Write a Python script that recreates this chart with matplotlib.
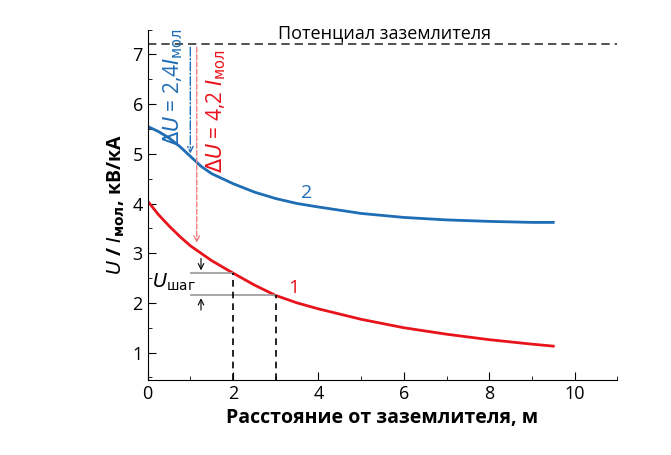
import matplotlib.pyplot as plt
import numpy as np
from matplotlib.ticker import MultipleLocator

plt.rcParams["font.family"] = "Open Sans"

x1 = [0, 0.25, 0.5, 0.75, 1, 1.5, 2, 2.5, 3, 3.5, 4, 5, 6, 7, 8, 9, 9.5]
y1 = [4.05, 3.78, 3.55, 3.34, 3.15, 2.85, 2.6, 2.36, 2.15, 2.0, 1.88, 1.67, 1.5, 1.37, 1.26, 1.17, 1.13]
x2 = [0, 0.25, 0.5, 0.75, 1, 1.25, 1.5, 2, 2.5, 3, 3.5, 4, 5, 6, 7, 8, 9, 9.5]
y2 = [5.55, 5.45, 5.32, 5.15, 4.95, 4.75, 4.6, 4.4, 4.23, 4.1, 4.0, 3.93, 3.8, 3.72, 3.67, 3.64, 3.62, 3.62]
ground = 7.2

fig = plt.figure(figsize=(6.71, 4.55), dpi=100)
ax = fig.add_axes([0.22, 0.165, 0.70, 0.77])
ax.plot(x1, y1, color="#e8141c", lw=2)
ax.plot(x2, y2, color="#1f6db5", lw=2)
ax.axhline(ground, color="#333333", ls=(0, (5, 3)), lw=1.2)
ax.text(5.55, 7.25, "Потенциал заземлителя", fontsize=13, ha="center", va="bottom")

ax.annotate("", xy=(1.0, 4.95), xytext=(1.0, ground),
            arrowprops=dict(arrowstyle="->", color="#1f6db5", ls="-.", lw=1))
ax.annotate("", xy=(1.15, 3.15), xytext=(1.15, ground),
            arrowprops=dict(arrowstyle="->", color="#f08080", ls="--", lw=1))
ax.text(0.6, 6.35, r"$\Delta U$ = 2,4$I_{\rm мол}$", rotation=90, color="#1f6db5",
        fontsize=15, ha="center", va="center", clip_on=False)
ax.text(1.6, 5.85, r"$\Delta U$ = 4,2 $I_{\rm мол}$", rotation=90, color="#e8141c",
        fontsize=15, ha="center", va="center")
ax.text(3.6, 4.12, "2", color="#1f6db5", fontsize=14)
ax.text(3.3, 2.2, "1", color="#e8141c", fontsize=14)

ax.hlines([2.6, 2.15], [1.0, 1.0], [2, 3], color="#999999", lw=1.2)
ax.vlines([2, 3], 0.45, [2.6, 2.15], color="black", ls=(0, (4, 3)), lw=1.2)
ax.annotate("", xy=(1.25, 2.6), xytext=(1.25, 2.95), arrowprops=dict(arrowstyle="->", lw=0.8))
ax.annotate("", xy=(1.25, 2.15), xytext=(1.25, 1.8), arrowprops=dict(arrowstyle="->", lw=0.8))
ax.text(0.1, 2.3, r"$U_{\rm шаг}$", fontsize=14)

ax.set_xlim(0, 11)
ax.set_ylim(0.45, 7.5)
ax.xaxis.set_major_locator(MultipleLocator(2))
ax.xaxis.set_minor_locator(MultipleLocator(1))
ax.yaxis.set_major_locator(MultipleLocator(1))
ax.yaxis.set_minor_locator(MultipleLocator(0.5))
ax.tick_params(which="both", direction="in", labelsize=13)
ax.tick_params(which="major", length=6)
ax.tick_params(which="minor", length=3)
ax.spines["top"].set_visible(False)
ax.spines["right"].set_visible(False)
ax.set_xlabel("Расстояние от заземлителя, м", fontsize=14, fontweight="bold")
ax.set_ylabel(r"$\mathbf{\mathit{U}}$ / $\mathbf{\mathit{I}}_{\mathbf{мол}}$, кВ/кА", fontsize=14, fontweight="bold")
fig.savefig("out.png", dpi=100)
